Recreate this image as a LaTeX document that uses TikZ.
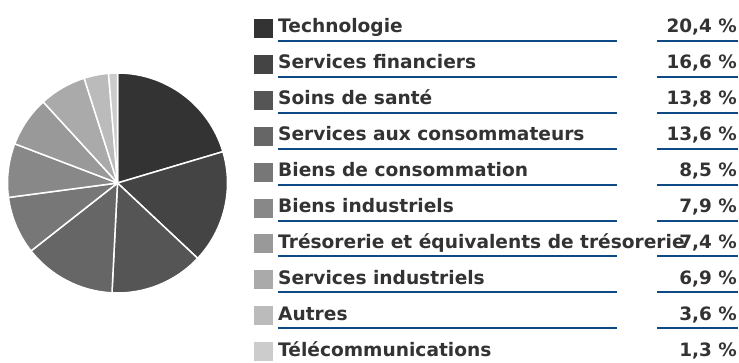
\documentclass[tikz,border=0pt]{standalone}
\usepackage{fontspec}
\setmainfont{DejaVu Sans}
\definecolor{txtgrey}{HTML}{333333}
\definecolor{ulblue}{HTML}{0D4A84}
\tikzset{
  slice/.style={draw=white,line width=1.5pt,line join=round},
  swatch/.style={minimum size=19pt,inner sep=0pt,draw=none},
  lab/.style={anchor=base west,inner sep=0pt,text=txtgrey,font=\fontsize{18.6}{20}\selectfont\bfseries},
  val/.style={anchor=base east,inner sep=0pt,text=txtgrey,font=\fontsize{18.4}{20}\selectfont\bfseries},
  uline/.style={draw=ulblue,line width=2pt},
}
\begin{document}
\begin{tikzpicture}[x=1pt,y=1pt]
\useasboundingbox (0,0) rectangle (739,362);

 \coordinate (pc) at (117.5,179);

 % pie
 \filldraw[slice,fill=black!80]   (pc) -- ++(90:110) arc[start angle=90, end angle=16.56, radius=110] -- cycle;
 \filldraw[slice,fill=black!73.3] (pc) -- ++(16.56:110) arc[start angle=16.56, end angle=-43.2, radius=110] -- cycle;
 \filldraw[slice,fill=black!66.7] (pc) -- ++(-43.2:110) arc[start angle=-43.2, end angle=-92.88, radius=110] -- cycle;
 \filldraw[slice,fill=black!60]   (pc) -- ++(-92.88:110) arc[start angle=-92.88, end angle=-141.84, radius=110] -- cycle;
 \filldraw[slice,fill=black!53.3] (pc) -- ++(-141.84:110) arc[start angle=-141.84, end angle=-172.44, radius=110] -- cycle;
 \filldraw[slice,fill=black!46.7] (pc) -- ++(-172.44:110) arc[start angle=-172.44, end angle=-200.88, radius=110] -- cycle;
 \filldraw[slice,fill=black!40]   (pc) -- ++(-200.88:110) arc[start angle=-200.88, end angle=-227.52, radius=110] -- cycle;
 \filldraw[slice,fill=black!33.3] (pc) -- ++(-227.52:110) arc[start angle=-227.52, end angle=-252.36, radius=110] -- cycle;
 \filldraw[slice,fill=black!26.7] (pc) -- ++(-252.36:110) arc[start angle=-252.36, end angle=-265.32, radius=110] -- cycle;
 \filldraw[slice,fill=black!20]   (pc) -- ++(-265.32:110) arc[start angle=-265.32, end angle=-270, radius=110] -- cycle;

 % legend
 \node (sq_0) at (263,333.5) [swatch,fill=black!80] {};
 \node (sq_1) at (263,297.6) [swatch,fill=black!73.3] {};
 \node (sq_2) at (263,261.7) [swatch,fill=black!66.7] {};
 \node (sq_3) at (263,225.8) [swatch,fill=black!60] {};
 \node (sq_4) at (263,189.9) [swatch,fill=black!53.3] {};
 \node (sq_5) at (263,154.0) [swatch,fill=black!46.7] {};
 \node (sq_6) at (263,118.1) [swatch,fill=black!40] {};
 \node (sq_7) at (263,82.2) [swatch,fill=black!33.3] {};
 \node (sq_8) at (263,46.3) [swatch,fill=black!26.7] {};
 \node (sq_9) at (263,10.4) [swatch,fill=black!20] {};

 \node (lab_0) at (278,329) [lab] {Technologie};
 \node (lab_1) at (278,293.1) [lab] {Services financiers};
 \node (lab_2) at (278,257.2) [lab] {Soins de santé};
 \node (lab_3) at (278,221.3) [lab] {Services aux consommateurs};
 \node (lab_4) at (278,185.4) [lab] {Biens de consommation};
 \node (lab_5) at (278,149.5) [lab] {Biens industriels};
 \node (lab_6) at (278,113.6) [lab] {Trésorerie et équivalents de trésorerie};
 \node (lab_7) at (278,77.7) [lab] {Services industriels};
 \node (lab_8) at (278,41.8) [lab] {Autres};
 \node (lab_9) at (278,5.9) [lab] {Télécommunications};

 \node (val_0) at (737,329) [val] {20,4 \%};
 \node (val_1) at (737,293.1) [val] {16,6 \%};
 \node (val_2) at (737,257.2) [val] {13,8 \%};
 \node (val_3) at (737,221.3) [val] {13,6 \%};
 \node (val_4) at (737,185.4) [val] {8,5 \%};
 \node (val_5) at (737,149.5) [val] {7,9 \%};
 \node (val_6) at (737,113.6) [val] {7,4 \%};
 \node (val_7) at (737,77.7) [val] {6,9 \%};
 \node (val_8) at (737,41.8) [val] {3,6 \%};
 \node (val_9) at (737,5.9) [val] {1,3 \%};

 % underlines
 \draw [uline] (278,321) -- (617,321) (657,321) -- (738,321);
 \draw [uline] (278,285.1) -- (617,285.1) (657,285.1) -- (738,285.1);
 \draw [uline] (278,249.2) -- (617,249.2) (657,249.2) -- (738,249.2);
 \draw [uline] (278,213.3) -- (617,213.3) (657,213.3) -- (738,213.3);
 \draw [uline] (278,177.4) -- (617,177.4) (657,177.4) -- (738,177.4);
 \draw [uline] (278,141.5) -- (617,141.5) (657,141.5) -- (738,141.5);
 \draw [uline] (278,105.6) -- (617,105.6) (657,105.6) -- (738,105.6);
 \draw [uline] (278,69.7) -- (617,69.7) (657,69.7) -- (738,69.7);
 \draw [uline] (278,33.8) -- (617,33.8) (657,33.8) -- (738,33.8);

\end{tikzpicture}
\end{document}
